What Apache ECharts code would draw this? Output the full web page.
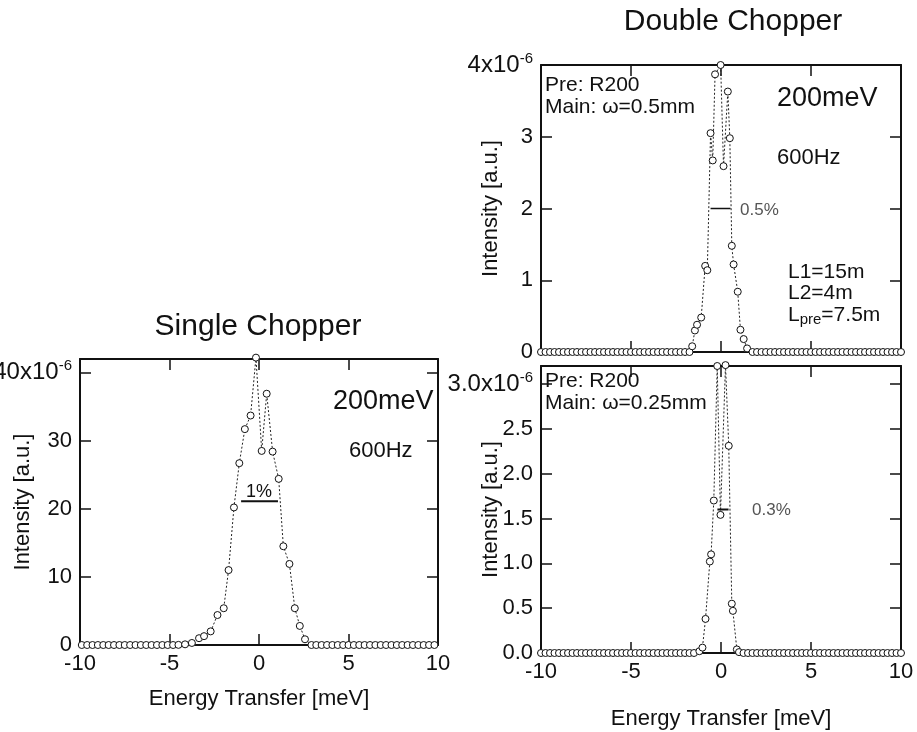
<!DOCTYPE html>
<html>
<head>
<meta charset="utf-8">
<title>Single / Double Chopper</title>
<script src="https://cdn.jsdelivr.net/npm/echarts@6/dist/echarts.min.js"></script>
<style>
  html, body { margin: 0; padding: 0; background: #fff; }
  #chart { width: 917px; height: 732px; }
</style>
</head>
<body>
<div id="chart"></div>
<script>
const energyTicks = [-10, -5, 0, 5, 10]

// Single chopper, 200 meV, 600 Hz
const singleE = [
  -9.9, -9.6, -9.3, -9.0, -8.7, -8.4, -8.1, -7.8, -7.5, -7.2,
  -6.9, -6.6, -6.3, -6.0, -5.7, -5.4, -5.1, -4.8,
  -4.5, -4.13, -3.75, -3.35, -3.07, -2.7, -2.32, -1.97, -1.7, -1.4,
  -1.1, -0.79, -0.47, -0.17, 0.15, 0.43, 0.76, 1.1, 1.36, 1.7,
  2.0, 2.28, 2.57, 2.93,
  3.2, 3.5, 3.8, 4.1, 4.4, 4.7, 5.0, 5.3, 5.6, 5.9,
  6.2, 6.5, 6.8, 7.1, 7.4, 7.7, 8.0, 8.3, 8.6, 8.9,
  9.2, 9.5, 9.8,
]
const singleI = [
  0, 0, 0, 0, 0, 0, 0, 0, 0, 0,
  0, 0, 0, 0, 0, 0, 0, 0,
  0.02, 0.1, 0.3, 1.0, 1.3, 2.0, 4.4, 5.4, 11.0, 20.2,
  26.7, 31.7, 33.7, 42.2, 28.5, 36.9, 28.4, 24.4, 14.5, 11.9,
  5.4, 2.8, 0.84, 0,
  0, 0, 0, 0, 0, 0, 0, 0, 0, 0,
  0, 0, 0, 0, 0, 0, 0, 0, 0, 0,
  0, 0, 0,
]
const singleFwhmE = [-1.0, 1.06]
const singleFwhmI = [21.1, 21.1]
const singleYTicks = [0, 10, 20, 30, 40]

// Double chopper, main slit 0.5 mm
const dc05E = [
  -10, -9.75, -9.5, -9.25, -9, -8.75, -8.5, -8.25, -8, -7.75,
  -7.5, -7.25, -7, -6.75, -6.5, -6.25, -6, -5.75, -5.5, -5.25,
  -5, -4.75, -4.5, -4.25, -4, -3.75, -3.5, -3.25, -3, -2.75,
  -2.5, -2.25, -2, -1.75,
  -1.6, -1.45, -1.33, -1.1, -0.88, -0.76, -0.58, -0.46, -0.33, -0.02,
  0.14, 0.38, 0.49, 0.6, 0.7, 0.93, 1.08, 1.26, 1.45,
  1.75, 2, 2.25, 2.5, 2.75, 3, 3.25, 3.5, 3.75, 4,
  4.25, 4.5, 4.75, 5, 5.25, 5.5, 5.75, 6, 6.25, 6.5,
  6.75, 7, 7.25, 7.5, 7.75, 8, 8.25, 8.5, 8.75, 9,
  9.25, 9.5, 9.75, 10,
]
const dc05I = [
  0, 0, 0, 0, 0, 0, 0, 0, 0, 0,
  0, 0, 0, 0, 0, 0, 0, 0, 0, 0,
  0, 0, 0, 0, 0, 0, 0, 0, 0, 0,
  0, 0, 0, 0,
  0.08, 0.3, 0.38, 0.48, 1.2, 1.14, 3.05, 2.67, 3.87, 4.0,
  2.59, 3.63, 2.98, 1.48, 1.22, 0.84, 0.31, 0.18, 0.05,
  0, 0, 0, 0, 0, 0, 0, 0, 0, 0,
  0, 0, 0, 0, 0, 0, 0, 0, 0, 0,
  0, 0, 0, 0, 0, 0, 0, 0, 0, 0,
  0, 0, 0, 0,
]
const dc05FwhmE = [-0.58, 0.53]
const dc05FwhmI = [2.0, 2.0]
const dc05YTicks = [0, 1, 2, 3, 4]

// Double chopper, main slit 0.25 mm
const dc025E = [
  -10, -9.75, -9.5, -9.25, -9, -8.75, -8.5, -8.25, -8, -7.75,
  -7.5, -7.25, -7, -6.75, -6.5, -6.25, -6, -5.75, -5.5, -5.25,
  -5, -4.75, -4.5, -4.25, -4, -3.75, -3.5, -3.25, -3, -2.75,
  -2.5, -2.25, -2, -1.75, -1.5,
  -1.2, -1.03, -0.86, -0.62, -0.55, -0.4, -0.21, -0.03, 0.25, 0.43,
  0.6, 0.66, 0.88, 1.0,
  1.25, 1.5, 1.75, 2, 2.25, 2.5, 2.75, 3, 3.25, 3.5,
  3.75, 4, 4.25, 4.5, 4.75, 5, 5.25, 5.5, 5.75, 6,
  6.25, 6.5, 6.75, 7, 7.25, 7.5, 7.75, 8, 8.25, 8.5,
  8.75, 9, 9.25, 9.5, 9.75, 10,
]
const dc025I = [
  0, 0, 0, 0, 0, 0, 0, 0, 0, 0,
  0, 0, 0, 0, 0, 0, 0, 0, 0, 0,
  0, 0, 0, 0, 0, 0, 0, 0, 0, 0,
  0, 0, 0, 0, 0,
  0.02, 0.06, 0.38, 1.02, 1.1, 1.7, 3.2, 1.54, 3.21, 2.31,
  0.55, 0.47, 0.04, 0.01,
  0, 0, 0, 0, 0, 0, 0, 0, 0, 0,
  0, 0, 0, 0, 0, 0, 0, 0, 0, 0,
  0, 0, 0, 0, 0, 0, 0, 0, 0, 0,
  0, 0, 0, 0, 0, 0,
]
const dc025FwhmE = [-0.2, 0.42]
const dc025FwhmI = [1.6, 1.6]
const dc025YTicks = [0, 0.5, 1.0, 1.5, 2.0, 2.5, 3.0]

const FONT = '"Liberation Sans", Arial, Helvetica, sans-serif'
const INK = '#111'

const pairs = (xs, ys) => xs.map((x, i) => [x, ys[i]])

function yFormatter(ticks, digits) {
  const top = ticks[ticks.length - 1]
  return (value) => {
    const hit = ticks.find((t) => Math.abs(t - value) < 1e-9)
    if (hit === undefined) return ''
    const text = hit.toFixed(digits)
    return hit === top ? `{b|${text}x10}{s|-6}` : text
  }
}

const labelStyle = {
  color: INK,
  fontSize: 22,
  fontFamily: FONT,
  rich: {
    b: { fontSize: 24, fontFamily: FONT, color: INK, lineHeight: 28 },
    s: { fontSize: 15, fontFamily: FONT, color: INK, lineHeight: 15, verticalAlign: 'top' },
  },
}

const frameLine = { show: true, onZero: false, lineStyle: { color: INK, width: 2 } }
const innerTick = { show: true, inside: true, length: 11, lineStyle: { color: INK, width: 1.5 } }
const nameStyle = { color: INK, fontSize: 22, fontFamily: FONT }

function energyAxes(gridIndex, showLabels, nameGap) {
  const base = { gridIndex, type: 'value', min: -10, max: 10, interval: 5, splitLine: { show: false }, axisLine: frameLine, axisTick: innerTick }
  return [
    {
      ...base,
      position: 'bottom',
      name: showLabels ? 'Energy Transfer [meV]' : '',
      nameLocation: 'middle',
      nameGap,
      nameMoveOverlap: false,
      nameTextStyle: nameStyle,
      axisLabel: { show: showLabels, margin: 8, color: INK, fontSize: 22, fontFamily: FONT,
        formatter: (v) => (energyTicks.includes(v) ? String(v) : '') },
    },
    { ...base, position: 'top', axisLabel: { show: false } },
  ]
}

function intensityAxes(gridIndex, max, interval, ticks, digits, nameGap) {
  const base = { gridIndex, type: 'value', min: 0, max, interval, splitLine: { show: false }, axisLine: frameLine, axisTick: innerTick }
  return [
    {
      ...base,
      position: 'left',
      name: 'Intensity [a.u.]',
      nameLocation: 'middle',
      nameGap,
      nameMoveOverlap: false,
      nameTextStyle: nameStyle,
      axisLabel: { ...labelStyle, margin: 8, showMaxLabel: true, formatter: yFormatter(ticks, digits) },
    },
    { ...base, position: 'right', axisLabel: { show: false } },
  ]
}

function dataSeries(axis, xs, ys) {
  return {
    type: 'line',
    xAxisIndex: axis,
    yAxisIndex: axis,
    data: pairs(xs, ys),
    clip: false,
    symbol: 'circle',
    symbolSize: 7,
    itemStyle: { color: '#fff', borderColor: INK, borderWidth: 1 },
    lineStyle: { color: '#222', width: 1, type: [2, 2] },
    z: 3,
  }
}

function fwhmSeries(axis, xs, ys, width) {
  return {
    type: 'line',
    xAxisIndex: axis,
    yAxisIndex: axis,
    data: pairs(xs, ys),
    showSymbol: false,
    symbol: 'none',
    lineStyle: { color: INK, width, type: 'solid' },
    z: 4,
  }
}

function note(text, x, y, size, extra = {}) {
  return {
    type: 'text',
    x,
    y,
    z: 10,
    style: {
      text,
      font: `${size}px ${FONT}`,
      fill: extra.fill || INK,
      align: extra.align || 'left',
      textAlign: extra.align || 'left',
      verticalAlign: 'middle',
      textVerticalAlign: 'middle',
      rich: extra.rich,
    },
  }
}

const lpreRich = {
  a: { fontSize: 21, fontFamily: FONT, color: INK, lineHeight: 24 },
  sub: { fontSize: 15, fontFamily: FONT, color: INK, lineHeight: 15, verticalAlign: 'bottom' },
}

const chart = echarts.init(document.getElementById('chart'), null, { renderer: 'canvas' })

chart.setOption({
  animation: false,
  backgroundColor: '#fff',
  grid: [
    { left: 80, top: 359, width: 358, height: 286, containLabel: false, outerBoundsMode: 'none' },
    { left: 541, top: 65, width: 360, height: 287, containLabel: false, outerBoundsMode: 'none' },
    { left: 541, top: 366, width: 360, height: 287, containLabel: false, outerBoundsMode: 'none' },
  ],
  xAxis: [
    ...energyAxes(0, true, 43),
    ...energyAxes(1, false, 0),
    ...energyAxes(2, true, 55),
  ],
  yAxis: [
    ...intensityAxes(0, 42, 10, singleYTicks, 0, 46),
    ...intensityAxes(1, 4, 1, dc05YTicks, 0, 39),
    ...intensityAxes(2, 3.2, 0.5, dc025YTicks, 1, 39),
  ],
  series: [
    dataSeries(0, singleE, singleI),
    fwhmSeries(0, singleFwhmE, singleFwhmI, 2),
    dataSeries(2, dc05E, dc05I),
    fwhmSeries(2, dc05FwhmE, dc05FwhmI, 1.5),
    dataSeries(4, dc025E, dc025I),
    fwhmSeries(4, dc025FwhmE, dc025FwhmI, 2),
  ],
  graphic: [
    note('Single Chopper', 258, 327, 30, { align: 'center' }),
    note('Double Chopper', 733, 22, 30, { align: 'center' }),

    note('200meV', 333, 402, 27),
    note('600Hz', 349, 451, 22),
    note('1%', 259, 492, 18, { align: 'center' }),

    note('Pre: R200', 545, 85, 21),
    note('Main: \u03c9=0.5mm', 545, 107, 21),
    note('200meV', 777, 99, 27),
    note('600Hz', 777, 158, 22),
    note('0.5%', 740, 210, 17, { fill: '#555' }),
    note('L1=15m', 788, 272, 21),
    note('L2=4m', 788, 293, 21),
    note('{a|L}{sub|pre}{a|=7.5m}', 788, 315, 21, { rich: lpreRich }),

    note('Pre: R200', 545, 381, 21),
    note('Main: \u03c9=0.25mm', 545, 403, 21),
    note('0.3%', 752, 510, 17, { fill: '#555' }),
  ],
})
</script>
</body>
</html>
